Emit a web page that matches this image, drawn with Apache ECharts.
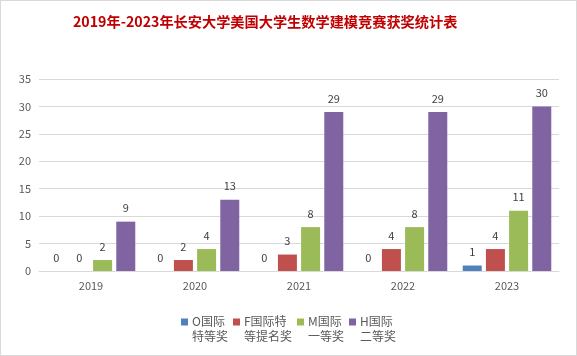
<!DOCTYPE html>
<html><head><meta charset="utf-8">
<script src="https://cdn.jsdelivr.net/npm/echarts@6/dist/echarts.min.js"></script>
<style>html,body{margin:0;padding:0;background:#fff}#c{width:577px;height:356px;box-sizing:border-box;border:1px solid #d9d9d9}</style>
</head><body><div id="c"></div>
<script>
const categories = ['2019','2020','2021','2022','2023'];
const seriesNames = ['O国际\n特等奖','F国际特\n等提名奖','M国际\n一等奖','H国际\n二等奖'];
const oAward = [0,0,0,0,1];
const fAward = [0,2,3,4,4];
const mAward = [2,4,8,8,11];
const hAward = [9,13,29,29,30];
const colors = ['#4F81BD','#C0504D','#9BBB59','#8064A2'];
const chart = echarts.init(document.getElementById('c'));
const font = '"Noto Sans CJK SC", "Microsoft YaHei", sans-serif';
const mk = (name, data, i) => ({
  name, type: 'bar', data, barWidth: 19, barGap: '22%',
  itemStyle: {color: colors[i]},
  label: {show: true, position: 'top', color: '#404040', fontSize: 11, distance: 8, fontFamily: font}
});
chart.setOption({
  animation: false,
  title: {text: '2019年-2023年长安大学美国大学生数学建模竞赛获奖统计表', left: 67, top: 9,
    textStyle: {color: '#C00000', fontSize: 14.2, fontWeight: 'bold', fontFamily: font}},
  grid: {left: 38, right: 17, top: 78, bottom: 84},
  legend: {bottom: 6, left: 'center', itemWidth: 7, itemHeight: 21, itemGap: 5,
    icon: 'path://M0,0L7,0L7,7L0,7Z M0,21L0.001,21L0,21.001Z',
    textStyle: {color: '#595959', fontSize: 12, fontFamily: font, lineHeight: 15, padding: [0,0,0,-1]}},
  xAxis: {type: 'category', data: categories,
    axisLine: {lineStyle: {color: '#d9d9d9'}}, axisTick: {show: false},
    axisLabel: {color: '#595959', fontSize: 11, margin: 9, fontFamily: font}},
  yAxis: {type: 'value', min: 0, max: 35, interval: 5,
    splitLine: {lineStyle: {color: '#d9d9d9'}},
    axisLabel: {color: '#595959', fontSize: 11, margin: 8, fontFamily: font}},
  series: [mk(seriesNames[0], oAward, 0), mk(seriesNames[1], fAward, 1), mk(seriesNames[2], mAward, 2), mk(seriesNames[3], hAward, 3)]
});
</script></body></html>
